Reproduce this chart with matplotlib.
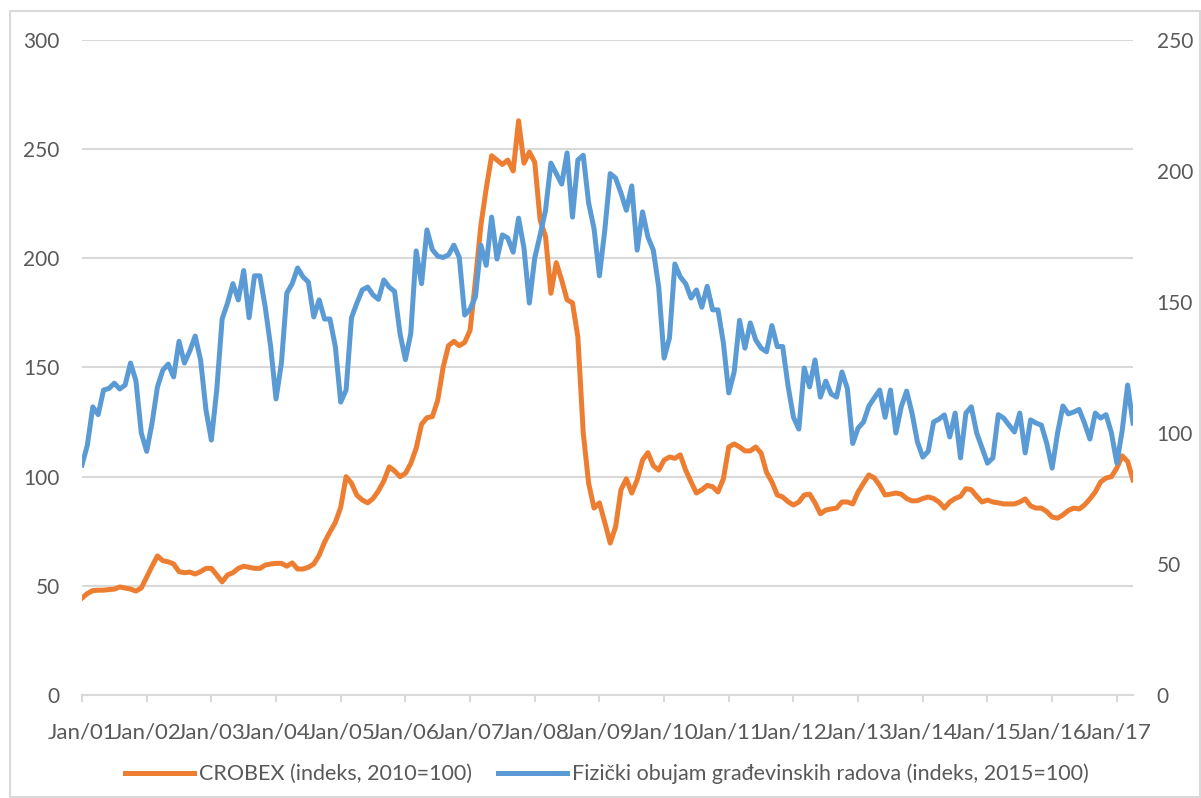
import numpy as np
import matplotlib
matplotlib.use('Agg')
import matplotlib.pyplot as plt
from matplotlib.patches import Rectangle

# mjesecni podaci od Jan/01 do Apr/17
crobex = [
    44.4, 46.5, 47.8, 48, 48, 48.3, 48.5, 49.5, 49, 48.5, 47.6, 49,
    54, 59, 63.7, 61.5, 61, 60, 56.5, 56, 56.3, 55.4, 56.5, 58,
    58, 55, 51.8, 55, 56, 58, 59, 58.5, 58, 58, 59.5, 60,
    60.3, 60.3, 59, 60.5, 57.7, 57.7, 58.5, 60, 64, 70, 74.7, 79,
    86, 100, 97, 91.5, 89.3, 88, 90, 93.5, 98, 104.5, 102.6, 100,
    101.5, 106, 113, 124, 127, 127.5, 135, 150, 160, 162, 160, 161.5,
    167, 190, 215, 232, 247, 245, 243, 245, 240, 263, 243.6, 248.7,
    244, 217.6, 210, 184, 198, 190, 181, 179.6, 164, 120, 97, 85.6,
    88, 79, 69.6, 77, 94, 99, 92.5, 98.5, 107.6, 111, 105, 103,
    107.6, 109, 108.4, 110, 103, 97.6, 92.5, 94, 96, 95.4, 93, 99,
    113.6, 115, 113.6, 111.8, 111.8, 113.6, 110.8, 102, 97.6, 91.6, 90.7, 88.5,
    87, 88.4, 91.6, 92, 88, 83, 84.7, 85.2, 85.6, 88.4, 88.4, 87.5,
    93, 97, 100.8, 99.4, 96, 91.6, 92, 92.5, 92, 90, 88.9, 89,
    90, 90.7, 90, 88.4, 85.6, 88.4, 90, 91, 94.5, 94, 91, 88.4,
    89.3, 88.4, 88, 87.5, 87.5, 87.5, 88.4, 89.8, 86.6, 85.6, 85.6, 84,
    81.5, 81, 82.5, 84.5, 85.6, 85.2, 87, 89.8, 93, 97.6, 99.4, 100,
    104, 109.5, 107, 98.5,
]

gradjevina = [
    87.8, 95.4, 110, 107, 116.4, 117, 119, 116.8, 118.3, 126.7, 120, 100,
    93, 103.8, 117.6, 124, 126.3, 121.4, 135, 126.7, 131.3, 137, 127.9, 108.8,
    97.3, 116.4, 143.5, 149.6, 157, 150.8, 162, 144, 160, 160, 148, 133,
    113, 126.7, 153.4, 157, 163, 159.6, 157.6, 144.3, 150.8, 143.5, 143.5, 133,
    111.8, 116.4, 144, 149.6, 154.6, 155.7, 152.7, 151, 158.4, 155.7, 154, 138,
    128, 138, 169.5, 157, 177.5, 170, 167.5, 167, 168, 171.7, 167, 145,
    147.3, 152, 171.7, 164, 182.4, 166.4, 175.6, 174.4, 169, 182, 170.6, 149.6,
    166.8, 175.6, 185, 203, 199, 195, 206.9, 182.4, 204.2, 206, 187.8, 178,
    160, 177.5, 199, 197.3, 191.6, 185, 194.3, 169.8, 184.4, 174.8, 169.8, 155.7,
    128.6, 136.3, 164.5, 159.6, 157, 151.5, 154.6, 148, 156, 147, 147, 134.4,
    115.3, 123.3, 143, 132.4, 142, 135.5, 132.4, 131, 141, 133, 133, 118,
    106, 101.5, 124.8, 117.6, 127.9, 113.7, 119.8, 114.9, 113.7, 123.3, 117, 96,
    101.9, 104.2, 110.3, 113.4, 116.4, 106, 116.4, 100, 110, 116, 107.6, 96.6,
    90.8, 93, 104.2, 105.3, 106.9, 98.5, 107.6, 90.5, 107.6, 110, 100, 94.3,
    88.5, 90.5, 107, 105.7, 103, 100.4, 107.6, 92.4, 105, 103.8, 103, 96,
    86.6, 100, 110.3, 107.3, 108, 109, 103.8, 97.7, 107.6, 105.7, 107, 100,
    88.5, 101, 118.3, 103.8,
]

godine = ['Jan/%02d' % g for g in range(1, 18)]
lijeve_oznake = [0, 50, 100, 150, 200, 250, 300]
desne_oznake = [0, 50, 100, 150, 200, 250]

plt.rcParams['font.family'] = ['Lato', 'DejaVu Sans']
siva = '#595959'
mreza = '#d9d9d9'

fig = plt.figure(figsize=(12.01, 7.98), dpi=100)
ax = fig.add_axes([82/1201, 1-695/798, (1133-82)/1201, (695-40)/798])
ax2 = ax.twinx()

x = np.arange(len(crobex))
l1, = ax.plot(x, crobex, color='#ED7D31', lw=3.6, solid_joinstyle='round')
l2, = ax2.plot(x, gradjevina, color='#5B9BD5', lw=3.6, solid_joinstyle='round')

ax.set_xlim(0, len(crobex) - 1)
ax.set_ylim(0, 300)
ax2.set_ylim(0, 250)
ax.set_yticks(lijeve_oznake)
ax2.set_yticks(desne_oznake)
ax.set_xticks(np.arange(0, 12*len(godine), 12))
ax.set_xticklabels(godine)

ax.grid(axis='y', color=mreza, lw=1.5)
ax.set_axisbelow(True)
for a in (ax, ax2):
    for s in ['top', 'left', 'right', 'bottom']:
        a.spines[s].set_visible(False)
ax.spines['bottom'].set_visible(True)
ax.spines['bottom'].set_color(mreza)
ax.spines['bottom'].set_linewidth(1.5)

ax.tick_params(axis='y', length=0, pad=16, labelsize=15, labelcolor=siva)
ax2.tick_params(axis='y', length=0, pad=17, labelsize=15, labelcolor=siva)
ax.tick_params(axis='x', length=5, width=1.5, color=mreza, pad=15,
               labelsize=16, labelcolor=siva)

fig.legend([l1, l2], ['CROBEX (indeks, 2010=100)',
                      'Fizički obujam građevinskih radova (indeks, 2015=100)'],
           loc='center', bbox_to_anchor=(607/1201, 1-774/798), ncol=2,
           frameon=False, fontsize=15.5, handlelength=3.2, handletextpad=0.25,
           columnspacing=1.2, labelcolor=siva)

fig.patches.append(Rectangle((10/1201, 1/798), 1190/1201, 786/798,
                             transform=fig.transFigure, fill=False,
                             edgecolor=mreza, lw=1.5))

fig.savefig('out.png', dpi=100)
